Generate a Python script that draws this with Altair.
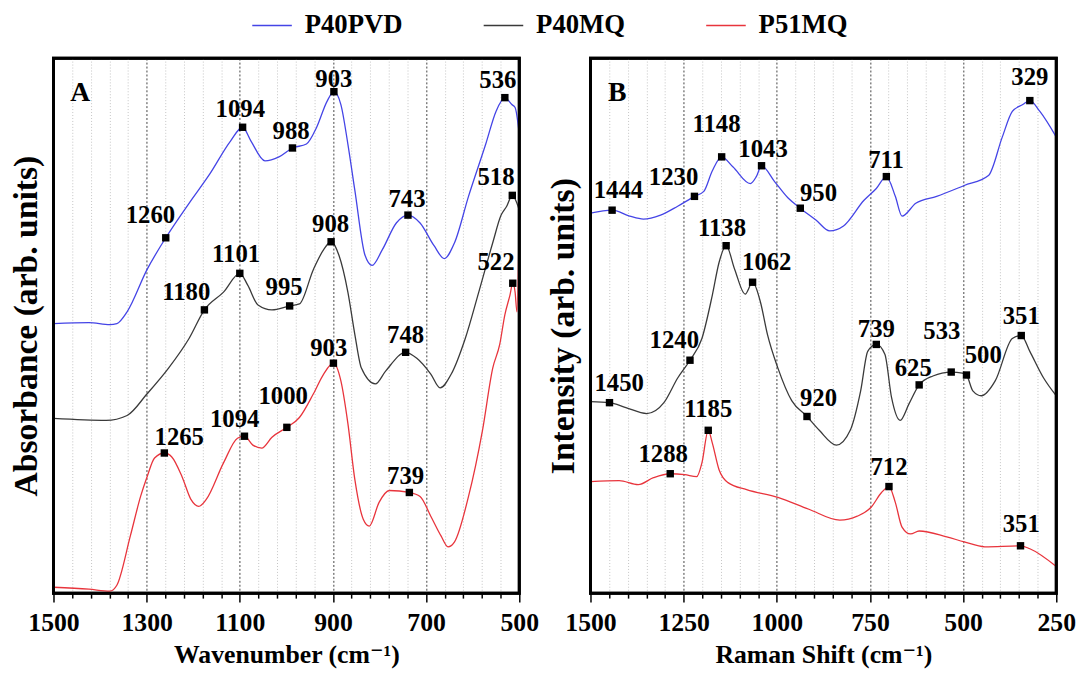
import altair as alt
import pandas as pd

FONT = "'Times New Roman', 'Liberation Serif', 'DejaVu Serif', serif"
SERIES = ["P40PVD", "P40MQ", "P51MQ"]
COLORS = ["#4444e6", "#3a3a3a", "#e8343c"]

# ---------------- Panel A (FTIR) ----------------
a_pvd_x = [1500, 1424, 1379, 1364, 1342, 1299, 1259, 1209, 1164, 1120, 1094, 1076, 1046, 1016, 987, 957, 935, 913, 898, 883,
           868, 853, 831, 816, 794, 764, 739, 713, 683, 661, 639, 609, 572, 550, 531, 516, 509, 500]
a_pvd_y = [273, 274, 272, 273, 285, 328, 360, 395, 425, 458, 472, 458, 438, 442, 451, 455, 472, 498, 508, 495,
           455, 408, 342, 332, 348, 375, 383, 375, 352, 339, 355, 402, 455, 488, 502, 495, 492, 465]

a_mq_x = [1500, 1387, 1342, 1299, 1253, 1209, 1176, 1135, 1100, 1083, 1061, 1031, 993, 972, 942, 920, 904, 887,
          868, 853, 839, 809, 787, 744, 720, 690, 670, 646, 616, 587, 557, 539, 527, 515, 505, 500]
a_mq_y = [177, 175, 180, 202, 228, 258, 287, 305, 324, 312, 292, 287, 291, 293, 328, 348, 356, 342,
          305, 262, 228, 212, 225, 244, 238, 222, 208, 222, 258, 305, 355, 383, 392, 403, 395, 388]

a_51_x = [1500, 1424, 1379, 1364, 1335, 1313, 1299, 1283, 1262, 1246, 1224, 1205, 1188, 1172, 1135, 1105, 1090, 1072,
          1053, 1031, 999, 972, 942, 920, 899, 883, 868, 853, 835, 822, 801, 779, 736, 713, 690, 668, 653, 639,
          609, 579, 557, 542, 531, 520, 514, 509, 505, 500]
a_51_y = [6, 4, 2, 8, 58, 98, 118, 137, 142, 138, 118, 95, 88, 95, 132, 157, 159, 150,
          147, 158, 168, 178, 202, 222, 233, 215, 172, 115, 75, 68, 92, 104, 102, 98, 78, 58, 47, 52,
          98, 165, 228, 252, 282, 302, 314, 305, 285, 388]

# peak markers (position)
a_mk_x = [1259, 1094, 987, 898, 739, 531, 1176, 1100, 993, 904, 744, 515, 1262, 1090, 999, 899, 736, 514]
a_mk_y = [360, 472, 451, 508, 383, 502, 287, 324, 291, 356, 244, 403, 142, 159, 168, 233, 102, 314]
# peak labels: text, text centre, baseline
a_lb_text = ["1260", "1094", "988", "903", "743", "536", "1180", "1101", "995", "908", "748", "518",
             "1265", "1094", "1000", "903", "739", "522"]
a_lb_x = [1292, 1099, 990, 898, 741, 546, 1215, 1108, 1005, 905, 744, 550, 1230, 1111, 1007, 909, 744, 550]
a_lb_y = [375, 482, 460, 513, 391, 512, 297, 335, 302, 366, 253, 413, 150, 168, 192, 240, 111, 327]

# ---------------- Panel B (Raman) ----------------
b_pvd_x = [1500, 1442, 1395, 1358, 1312, 1266, 1221, 1196, 1173, 1148, 1118, 1071, 1055, 1041, 1006, 969, 937, 895,
           858, 821, 766, 733, 706, 682, 664, 627, 571, 497, 432, 395, 368, 340, 321, 294, 250]
b_pvd_y = [385, 388, 382, 379, 383, 392, 402, 407, 428, 442, 432, 415, 422, 433, 417, 400, 390, 378,
           367, 372, 398, 410, 422, 402, 382, 395, 402, 413, 423, 462, 488, 495, 499, 488, 462]

b_mq_x = [1500, 1449, 1405, 1349, 1303, 1266, 1233, 1201, 1173, 1155, 1136, 1113, 1085, 1065, 1044, 1025, 997, 960,
          919, 886, 840, 803, 775, 756, 733, 710, 692, 669, 645, 618, 581, 532, 502, 491, 474, 451, 414, 368,
          344, 321, 284, 250]
b_mq_y = [194, 193, 188, 182, 193, 218, 236, 258, 302, 335, 352, 328, 303, 315, 295, 262, 228, 195,
          179, 165, 150, 165, 205, 245, 252, 242, 198, 175, 192, 211, 220, 224, 223, 221, 205, 200, 215, 258,
          261, 245, 218, 200]

b_51_x = [1500, 1423, 1372, 1331, 1286, 1247, 1215, 1201, 1184, 1173, 1155, 1131, 1081, 997, 914, 831, 784, 747,
          719, 699, 682, 664, 641, 618, 544, 497, 442, 346, 321, 250]
b_51_y = [113, 114, 110, 117, 121, 120, 118, 132, 165, 152, 125, 112, 105, 97, 85, 74, 78, 87,
          102, 108, 92, 67, 60, 63, 57, 52, 47, 48, 45, 27]

b_mk_x = [1442, 1221, 1148, 1041, 937, 706, 321,
          1449, 1233, 1136, 1065, 919, 733, 618, 532, 491, 344,
          1286, 1184, 699, 346]
b_mk_y = [388, 402, 442, 433, 390, 422, 499,
          193, 236, 352, 315, 179, 252, 211, 224, 221, 261,
          121, 165, 108, 48]
b_lb_text = ["1444", "1230", "1148", "1043", "950", "711", "329",
             "1450", "1240", "1138", "1062", "920", "739", "625", "533", "500", "351",
             "1288", "1185", "712", "351"]
b_lb_x = [1425, 1277, 1162, 1037, 888, 707, 321,
          1423, 1275, 1147, 1027, 888, 733, 634, 557, 446, 344,
          1305, 1184, 699, 344]
b_lb_y = [400, 413, 467, 442, 397, 431, 515,
          205, 248, 362, 327, 190, 260, 220, 257, 233, 273,
          133, 178, 120, 62]

W, H = 471, 541


def lines_frame(xs, ys):
    rows = []
    for name, x, y in zip(SERIES, xs, ys):
        for i, (wx, vy) in enumerate(zip(x, y)):
            rows.append({"wn": wx, "v": vy, "series": name, "order": i})
    return pd.DataFrame(rows)


def panel(df_lines, mk_x, mk_y, lb_text, lb_x, lb_y, xmin, xmax, step, major_test,
          xtitle, ytitle, letter):
    ticks = list(range(xmin, xmax + 1, step))
    x_axis = alt.Axis(
        values=ticks,
        labelExpr=f"({major_test}) ? '' + datum.value : ''",
        labelFont=FONT, labelFontSize=26, labelFontWeight="bold", labelColor="black",
        labelPadding=8, labelOverlap=False, labelFlush=False,
        tickColor="black", tickWidth=1.5,
        tickSize={"condition": {"test": major_test, "value": 9}, "value": 5},
        domain=False,
        grid=True,
        gridColor={"condition": {"test": major_test, "value": "#444444"}, "value": "#c4c4c4"},
        gridDash={"condition": {"test": major_test, "value": [2, 2]}, "value": [1, 2]},
        gridWidth=1,
        title=xtitle, titleFont=FONT, titleFontSize=26, titleFontWeight="bold",
        titleColor="black", titlePadding=6,
    )
    y_axis = alt.Axis(
        labels=False, ticks=False, domain=False, grid=False,
        title=ytitle, titleFont=FONT, titleFontSize=34, titleFontWeight="bold",
        titleColor="black", titlePadding=10,
    )
    X = alt.X("wn:Q", scale=alt.Scale(domain=[xmin, xmax], reverse=True, nice=False, zero=False), axis=x_axis)
    Y = alt.Y("v:Q", scale=alt.Scale(domain=[0, 542], nice=False, zero=False), axis=y_axis)

    color = alt.Color(
        "series:N",
        scale=alt.Scale(domain=SERIES, range=COLORS),
        legend=alt.Legend(
            orient="none", legendX=200, legendY=-54, direction="horizontal", title=None,
            symbolType="stroke", symbolSize=1600, symbolStrokeWidth=1.6,
            labelFont=FONT, labelFontSize=27, labelFontWeight="bold", labelColor="black",
            labelOffset=12, columnPadding=78,
        ),
    )

    lines = alt.Chart(df_lines).mark_line(strokeWidth=1.3, interpolate="monotone").encode(
        x=X, y=Y, color=color, detail="series:N", order=alt.Order("order:Q")
    )
    mk = alt.Chart(pd.DataFrame({"wn": mk_x, "v": mk_y})).mark_square(
        size=56, color="black", opacity=1
    ).encode(x=X, y=Y)
    lb = alt.Chart(pd.DataFrame({"wn": lb_x, "v": lb_y, "t": lb_text})).mark_text(
        font=FONT, fontSize=25, fontWeight="bold", color="black", align="center", baseline="alphabetic"
    ).encode(x=X, y=Y, text="t:N")
    let = alt.Chart(pd.DataFrame({"t": [letter]})).mark_text(
        font=FONT, fontSize=28, fontWeight="bold", color="black", align="center", baseline="alphabetic"
    ).encode(x=alt.value(27), y=alt.value(43), text="t:N")
    frame = alt.Chart(pd.DataFrame({"t": [letter]})).mark_rect(
        filled=False, stroke="black", strokeWidth=3
    ).encode(x=alt.value(0), x2=alt.value(W), y=alt.value(0), y2=alt.value(H))
    return alt.layer(lines, mk, lb, let, frame).properties(width=W, height=H)


A = panel(lines_frame([a_pvd_x, a_mq_x, a_51_x], [a_pvd_y, a_mq_y, a_51_y]),
          a_mk_x, a_mk_y, a_lb_text, a_lb_x, a_lb_y, 500, 1500, 40, "datum.value % 200 == 100",
          "Wavenumber (cm\u207b\u00b9)", "Absorbance (arb. units)", "A")
B = panel(lines_frame([b_pvd_x, b_mq_x, b_51_x], [b_pvd_y, b_mq_y, b_51_y]),
          b_mk_x, b_mk_y, b_lb_text, b_lb_x, b_lb_y, 250, 1500, 50, "datum.value % 250 == 0",
          "Raman Shift (cm\u207b\u00b9)", "Intensity (arb. units)", "B")

chart = (
    alt.hconcat(A, B, spacing=5)
    .resolve_scale(x="independent", y="independent", color="shared")
    .resolve_legend(color="shared")
    .properties(padding={"left": 0, "top": -7, "right": 5, "bottom": 0})
    .configure_view(stroke="black", strokeWidth=3, fill="white")
)

chart.save("out.html", embed_options={"renderer": "svg", "actions": False})
